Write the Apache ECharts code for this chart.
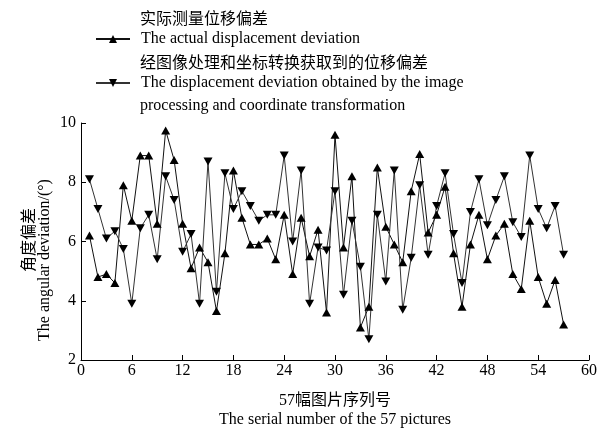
<!DOCTYPE html>
<html>
<head>
<meta charset="utf-8">
<script src="https://cdn.jsdelivr.net/npm/echarts@6/dist/echarts.min.js"></script>
<style>html,body{margin:0;padding:0;background:#fff;}#c{width:605px;height:434px;}</style>
</head>
<body>
<div id="c"></div>
<script>
var indices = [];
for (var k = 1; k <= 57; k++) indices.push(k);
var actualValues = [6.2,4.8,4.9,4.6,7.9,6.7,8.9,8.9,6.6,9.75,8.75,6.6,5.1,5.8,5.3,3.65,5.6,8.4,6.8,5.9,5.9,6.1,5.4,6.9,4.9,6.8,5.5,6.4,3.6,9.6,5.8,8.2,3.1,3.8,8.5,6.5,5.9,5.3,7.7,8.95,6.3,6.9,7.85,5.6,3.8,5.9,6.9,5.4,6.2,6.6,4.9,4.4,6.7,4.8,3.9,4.7,3.2];
var imageValues = [8.1,7.1,6.1,6.35,5.75,3.9,6.45,6.9,5.4,8.2,7.4,5.65,6.25,3.9,8.7,4.3,8.3,7.1,7.7,7.2,6.7,6.9,6.9,8.9,6.0,8.4,3.9,5.8,5.7,7.7,4.2,6.7,5.15,2.7,6.9,4.65,8.4,3.7,5.45,7.9,5.55,7.2,8.3,6.25,4.6,7.0,8.1,6.55,7.4,8.2,6.65,6.15,8.9,7.1,6.45,7.2,5.55];
var xTicks = [0,6,12,18,24,30,36,42,48,54,60];
var yTicks = [2,4,6,8,10];

var nameA = 'The actual displacement deviation';
var nameB = 'The displacement deviation obtained by the image';
var FONT = "'Liberation Serif','Noto Sans CJK SC',serif";
var CJK = "'Noto Sans CJK SC','Liberation Serif',serif";

function pairs(vals){ return vals.map(function(v,i){ return [indices[i], v]; }); }

var chart = echarts.init(document.getElementById('c'), null, {renderer:'canvas'});
var axisCommon = {
  axisLine:{show:true, lineStyle:{color:'#000', width:1}},
  axisTick:{show:true, inside:true, length:5, lineStyle:{color:'#000'}},
  splitLine:{show:false}
};
var legendCommon = {orient:'vertical', itemWidth:34, itemHeight:10, itemGap:0, padding:0,
  textStyle:{color:'#000', fontSize:16, fontFamily:FONT, padding:[0,0,0,6]}};
chart.setOption({
  animation:false,
  backgroundColor:'#fff',
  grid:{left:81, right:16, top:123, bottom:67, containLabel:false},
  xAxis:Object.assign({type:'value', min:xTicks[0], max:xTicks[xTicks.length-1], interval:6,
    name:'57幅图片序列号\nThe serial number of the 57 pictures', nameLocation:'middle', nameGap:31,
    nameTextStyle:{color:'#000', fontSize:16, fontFamily:FONT, lineHeight:19},
    axisLabel:{color:'#000', fontSize:16, fontFamily:FONT, margin:3}}, axisCommon),
  yAxis:Object.assign({type:'value', min:yTicks[0], max:yTicks[yTicks.length-1], interval:2,
    axisLabel:{color:'#000', fontSize:16, fontFamily:FONT, margin:5}}, axisCommon),
  legend:[
    Object.assign({data:[nameA], left:95, top:31}, legendCommon),
    Object.assign({data:[nameB], left:95, top:75}, legendCommon)
  ],
  graphic:[
    {type:'text', x:140, y:18, style:{text:'实际测量位移偏差', fill:'#000', font:"16px "+CJK, verticalAlign:'middle'}},
    {type:'text', x:140, y:62, style:{text:'经图像处理和坐标转换获取到的位移偏差', fill:'#000', font:"16px "+CJK, verticalAlign:'middle'}},
    {type:'text', x:140, y:106, style:{text:'processing and coordinate transformation', fill:'#000', font:"16px "+FONT, verticalAlign:'middle'}},
    {type:'text', x:28, y:240, rotation:Math.PI/2, style:{text:'角度偏差', fill:'#000', font:"16px "+CJK, align:'center', verticalAlign:'middle'}},
    {type:'text', x:45, y:260, rotation:Math.PI/2, style:{text:'The angular deviation/(°)', fill:'#000', font:"16px "+FONT, align:'center', verticalAlign:'middle'}}
  ],
  series:[
    {name:nameA, type:'line', data:pairs(actualValues), symbol:'triangle', symbolSize:[9,8], showAllSymbol:true,
     lineStyle:{color:'#111', width:1}, itemStyle:{color:'#000'}},
    {name:nameB, type:'line', data:pairs(imageValues), symbol:'triangle', symbolRotate:180, symbolSize:[9,8], showAllSymbol:true,
     lineStyle:{color:'#333', width:1}, itemStyle:{color:'#000'}}
  ]
});
</script>
</body>
</html>
